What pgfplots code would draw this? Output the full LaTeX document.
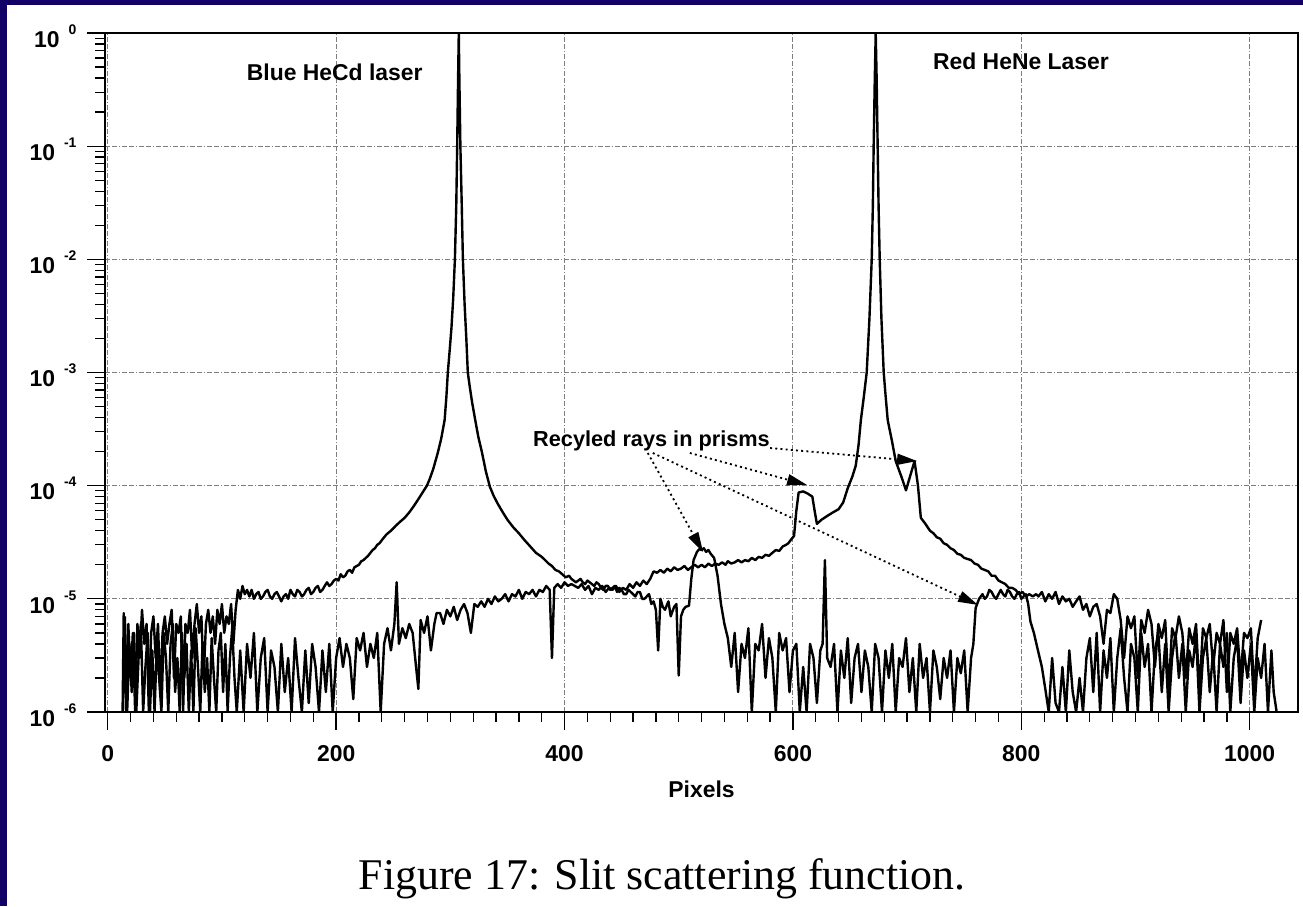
\documentclass[border=0pt]{standalone}
\usepackage{pgfplots}
\pgfplotsset{compat=1.18}
\usepackage{fontspec}
\setmainfont{Liberation Sans}
\newfontfamily\capfont{Liberation Serif}
\usetikzlibrary{arrows.meta}
\definecolor{navyframe}{RGB}{18,0,102}
\definecolor{gridgray}{RGB}{125,125,125}
\newcommand{\lab}{\fontsize{23}{26}\selectfont\bfseries}
\newcommand{\tp}[1]{10\hspace{9bp}\raisebox{13bp}{\fontsize{14}{14}\selectfont\bfseries #1}}
\begin{document}
\begin{tikzpicture}[x=1bp,y=1bp]
\path[use as bounding box] (0,0) rectangle (1303,906);
\fill[navyframe] (0,0) rectangle (1303,906);
\fill[white] (7.3,0) rectangle (1303,901.3);
\begin{axis}[
  at={(105bp,194bp)}, anchor=south west,
  scale only axis, width=1193bp, height=679bp,
  xmin=-2.4, xmax=1042.3, ymin=1e-6, ymax=1, ymode=log,
  xtick={0,200,400,600,800,1000},
  xticklabels={0,200,400,600,800,1000},
  minor x tick num=9,
  ytick={1e-6,1e-5,1e-4,1e-3,1e-2,1e-1,1},
  yticklabels={\tp{-6},\tp{-5},\tp{-4},\tp{-3},\tp{-2},\tp{-1},\tp{0}},
  xtick pos=bottom, ytick pos=left,
  tick align=outside,
  major tick length=18bp, minor tick length=10bp,
  every tick/.style={black, line width=1.3bp},
  axis line style={line width=1.5bp},
  tick label style={font=\lab},
  yticklabel style={yshift=-3bp, xshift=-7bp},
  xticklabel style={yshift=-12bp},
  grid=major,
  major grid style={gridgray, line width=1bp, dash pattern=on 5bp off 2bp on 5bp off 2bp on 1bp off 2bp},
  xlabel={Pixels},
  xlabel style={font=\lab, yshift=-12bp},
  clip=true,
]
% Blue HeCd laser
\addplot[black, line width=2.4bp, line join=round] table[row sep=\\] {
x y\\
13 1e-6\\ 14 7.5e-6\\ 16 1e-6\\ 18 6e-6\\ 20 2e-6\\ 22 5e-6\\ 24 1e-6\\ 26 6e-6\\ 28 3e-6\\ 30 8e-6\\
32 4e-6\\ 34 6e-6\\ 36 1e-6\\ 38 5e-6\\ 40 7e-6\\ 42 3e-6\\ 44 6e-6\\ 46 1.5e-6\\ 48 5e-6\\ 50 7e-6\\
52 4e-6\\ 54 6e-6\\ 56 8e-6\\ 58 2e-6\\ 60 6e-6\\ 62 5e-6\\ 64 7e-6\\ 66 1e-6\\ 68 6e-6\\ 70 5e-6\\
72 8e-6\\ 74 3e-6\\ 76 6e-6\\ 78 9e-6\\ 80 5e-6\\ 82 7e-6\\ 84 2e-6\\ 86 6e-6\\ 88 8e-6\\ 90 5e-6\\
92 7e-6\\ 94 4e-6\\ 96 8e-6\\ 98 6e-6\\ 100 9e-6\\ 102 5e-6\\ 104 7e-6\\ 106 6e-6\\ 108 9e-6\\ 110 4e-6\\
112 8e-6\\ 114 1.2e-5\\ 116 1.0e-5\\ 118 1.3e-5\\ 120 1.1e-5\\ 122 1.2e-5\\ 124 1.05e-5\\ 126 1.2e-5\\ 128 1.0e-5\\ 130 1.1e-5\\
132 1.15e-5\\ 134 1.0e-5\\ 136 1.05e-5\\ 138 1.15e-5\\ 140 1.2e-5\\ 142 1.05e-5\\ 144 1.0e-5\\ 146 1.1e-5\\ 148 1.15e-5\\ 150 1.05e-5\\
152 9.5e-6\\ 154 1.05e-5\\ 156 1.1e-5\\ 158 1.0e-5\\ 160 1.2e-5\\ 162 1.1e-5\\ 164 1.05e-5\\ 166 1.2e-5\\ 168 1.15e-5\\ 170 1.05e-5\\
172 1.1e-5\\ 174 1.2e-5\\ 176 1.25e-5\\ 178 1.1e-5\\ 180 1.15e-5\\ 182 1.25e-5\\ 184 1.3e-5\\ 186 1.15e-5\\ 188 1.2e-5\\ 190 1.3e-5\\
192 1.4e-5\\ 194 1.3e-5\\ 196 1.35e-5\\ 198 1.45e-5\\ 200 1.5e-5\\ 202 1.45e-5\\ 204 1.65e-5\\ 206 1.55e-5\\ 208 1.6e-5\\ 210 1.75e-5\\
212 1.8e-5\\ 214 1.7e-5\\ 216 1.9e-5\\ 218 1.95e-5\\ 220 2.0e-5\\ 222 2.15e-5\\ 224 2.2e-5\\ 226 2.3e-5\\ 228 2.4e-5\\ 230 2.55e-5\\
232 2.7e-5\\ 234 2.8e-5\\ 236 3.0e-5\\ 238 3.1e-5\\ 240 3.3e-5\\ 244 3.7e-5\\ 248 4.0e-5\\ 252 4.4e-5\\ 256 4.8e-5\\ 260 5.2e-5\\
264 5.8e-5\\ 268 6.6e-5\\ 272 7.6e-5\\ 276 8.8e-5\\ 279.5 1.0e-4\\ 282 1.15e-4\\ 285 1.4e-4\\ 289 1.95e-4\\ 292 2.6e-4\\ 295 3.8e-4\\
296.5 6e-4\\ 297.8 1e-3\\ 299.5 1.6e-3\\ 301 2.5e-3\\ 302.5 4.5e-3\\ 304 1e-2\\ 305.2 3e-2\\ 306 0.1\\ 306.8 0.4\\ 307.4 1.0\\
307.9 0.4\\ 308.8 0.1\\ 310 3e-2\\ 311 1e-2\\ 312.5 4e-3\\ 314 2e-3\\ 315.3 1e-3\\ 317 7.5e-4\\ 319 5.5e-4\\ 321.8 3.8e-4\\
324.5 2.7e-4\\ 327.8 1.95e-4\\ 331 1.35e-4\\ 334.6 9.8e-5\\ 338 8.1e-5\\ 341.6 6.9e-5\\ 346 5.8e-5\\ 350 5e-5\\ 355 4.3e-5\\ 360 3.8e-5\\
365 3.3e-5\\ 370 2.9e-5\\ 375 2.55e-5\\ 380 2.35e-5\\ 383 2.2e-5\\ 386 2.05e-5\\ 389 1.95e-5\\ 392 1.8e-5\\ 395 1.75e-5\\ 398 1.65e-5\\
401 1.55e-5\\ 404 1.6e-5\\ 406 1.5e-5\\ 408 1.45e-5\\ 410 1.4e-5\\ 412 1.45e-5\\ 414 1.5e-5\\ 416 1.4e-5\\ 418 1.35e-5\\ 420 1.45e-5\\
422 1.4e-5\\ 424 1.35e-5\\ 426 1.3e-5\\ 428 1.4e-5\\ 430 1.35e-5\\ 432 1.25e-5\\ 434 1.2e-5\\ 436 1.3e-5\\ 438 1.3e-5\\ 440 1.2e-5\\
442 1.25e-5\\ 444 1.3e-5\\ 446 1.15e-5\\ 448 1.25e-5\\ 450 1.2e-5\\ 452 1.1e-5\\ 454 1.1e-5\\ 456 1.2e-5\\ 458 1.15e-5\\ 460 1.1e-5\\
462 1.05e-5\\ 464 1.15e-5\\ 466 1.15e-5\\ 468 1.0e-5\\ 470 1.0e-5\\ 472 1.05e-5\\ 474 1.1e-5\\ 476 9e-6\\ 478 9.5e-6\\ 480 8e-6\\
482 3.5e-6\\ 484 1.0e-5\\ 486 8.5e-6\\ 488 8e-6\\ 490 9e-6\\ 491 9.5e-6\\ 493 7e-6\\ 494 7.5e-6\\ 496 8.5e-6\\ 498 9e-6\\
500 2.1e-6\\ 502 7e-6\\ 504 8e-6\\ 506 8.5e-6\\ 509 8.7e-6\\ 511 1.5e-5\\ 513 2.2e-5\\ 516 2.6e-5\\ 518 2.75e-5\\ 520 2.7e-5\\
522 2.8e-5\\ 524 2.6e-5\\ 526 2.7e-5\\ 528 2.5e-5\\ 531 2.3e-5\\ 534 1.6e-5\\ 537 9e-6\\ 540 6e-6\\ 543 4.5e-6\\ 546 2.5e-6\\
549 5e-6\\ 552 1.5e-6\\ 555 4e-6\\ 558 3e-6\\ 561 5.5e-6\\ 564 1e-6\\ 567 4e-6\\ 570 3.5e-6\\ 573 6e-6\\ 576 2e-6\\
579 4.5e-6\\ 582 3e-6\\ 585 1e-6\\ 588 5e-6\\ 591 3.5e-6\\ 594 4.5e-6\\ 597 1.5e-6\\ 600 3.5e-6\\ 603 4e-6\\ 606 1e-6\\
609 2.5e-6\\ 612 1e-6\\ 615 4e-6\\ 618 3e-6\\ 621 1.2e-6\\ 624 3.5e-6\\ 626 4e-6\\ 628 2.2e-5\\ 630 3e-6\\ 633 2.5e-6\\
636 4e-6\\ 639 1e-6\\ 642 3.5e-6\\ 645 2e-6\\ 648 4.5e-6\\ 651 1.2e-6\\ 654 3e-6\\ 657 4e-6\\ 660 1.5e-6\\ 663 3.5e-6\\
666 2.5e-6\\ 669 1e-6\\ 672 4e-6\\ 675 3e-6\\ 678 1e-6\\ 681 3.5e-6\\ 684 2e-6\\ 687 4e-6\\ 690 1e-6\\ 693 3e-6\\
696 2.5e-6\\ 699 4.5e-6\\ 702 1.5e-6\\ 705 3e-6\\ 708 1e-6\\ 711 4e-6\\ 714 2e-6\\ 717 3e-6\\ 720 1e-6\\ 723 3.5e-6\\
726 2.5e-6\\ 729 1.3e-6\\ 732 3e-6\\ 735 2e-6\\ 738 3.5e-6\\ 741 1e-6\\ 744 3e-6\\ 747 2.2e-6\\ 750 3.5e-6\\ 753 1e-6\\
756 3e-6\\ 758 4e-6\\ 760 8.3e-6\\ 763 1e-5\\ 766 1.1e-5\\ 768 1.0e-5\\ 770 1.05e-5\\ 772 1.2e-5\\ 774 1.15e-5\\ 776 1.05e-5\\
778 1.0e-5\\ 780 1.1e-5\\ 782 1.2e-5\\ 784 1.1e-5\\ 786 1.05e-5\\ 788 1.2e-5\\ 790 1.15e-5\\ 792 1.05e-5\\ 794 1.0e-5\\ 796 1.1e-5\\
798 1.15e-5\\ 800 1.0e-5\\ 802 1.05e-5\\ 804 1.1e-5\\ 806 9e-6\\ 808 6.3e-6\\ 811 5e-6\\ 814 3.7e-6\\ 818 2.5e-6\\ 821 1.6e-6\\
824 1e-6\\ 827 3e-6\\ 830 1.2e-6\\ 833 1e-6\\ 836 2.5e-6\\ 839 1e-6\\ 842 3.5e-6\\ 845 1.5e-6\\ 848 1e-6\\ 851 2e-6\\
854 1e-6\\ 857 3e-6\\ 860 4.5e-6\\ 863 1.5e-6\\ 866 5e-6\\ 869 1e-6\\ 872 3.5e-6\\ 875 2e-6\\ 878 4.5e-6\\ 881 1e-6\\
884 3e-6\\ 887 5.5e-6\\ 890 2e-6\\ 893 1e-6\\ 896 4e-6\\ 899 3e-6\\ 902 1e-6\\ 905 5e-6\\ 908 2.5e-6\\ 911 4e-6\\
914 1e-6\\ 917 3.5e-6\\ 920 5e-6\\ 923 1.5e-6\\ 926 4e-6\\ 929 1e-6\\ 932 3e-6\\ 935 5e-6\\ 938 2e-6\\ 941 4e-6\\
944 1e-6\\ 947 3.5e-6\\ 950 2.5e-6\\ 953 5e-6\\ 956 1e-6\\ 959 3e-6\\ 962 4.5e-6\\ 965 1.5e-6\\ 968 3.5e-6\\ 971 1e-6\\
974 4e-6\\ 977 2.5e-6\\ 980 5e-6\\ 983 1e-6\\ 986 3e-6\\ 989 4.5e-6\\ 992 1.2e-6\\ 995 3.5e-6\\ 998 2e-6\\ 1001 4e-6\\
1004 1e-6\\ 1007 3e-6\\ 1010 2e-6\\ 1013 4e-6\\ 1016 1e-6\\ 1019 3.5e-6\\ 1021 1.5e-6\\ 1023.6 1e-6\\
};
% Red HeNe laser
\addplot[black, line width=2.4bp, line join=round] table[row sep=\\] {
x y\\
15 7e-6\\ 17 1e-6\\ 19 4e-6\\ 21 1.5e-6\\ 23 5e-6\\ 25 1e-6\\ 27 3e-6\\ 29 6e-6\\ 31 1e-6\\ 33 2.5e-6\\
35 5e-6\\ 37 1e-6\\ 39 3.5e-6\\ 41 1e-6\\ 43 4e-6\\ 45 2e-6\\ 47 1e-6\\ 49 5e-6\\ 51 3e-6\\ 53 1e-6\\
55 4e-6\\ 57 6e-6\\ 59 1.5e-6\\ 61 3e-6\\ 63 1e-6\\ 65 5e-6\\ 67 2e-6\\ 69 4e-6\\ 71 1e-6\\ 73 3.5e-6\\
75 1e-6\\ 77 5.5e-6\\ 79 2.5e-6\\ 81 1e-6\\ 83 4e-6\\ 85 1.5e-6\\ 87 3e-6\\ 89 1e-6\\ 91 4.5e-6\\ 93 2e-6\\
95 1e-6\\ 97 3.5e-6\\ 99 5e-6\\ 101 1.5e-6\\ 103 4e-6\\ 105 1e-6\\ 107 3e-6\\ 109 5.5e-6\\ 111 2e-6\\ 113 1e-6\\
116 3.5e-6\\ 119 1e-6\\ 122 4e-6\\ 125 2e-6\\ 128 5e-6\\ 131 1e-6\\ 134 3e-6\\ 137 4.5e-6\\ 140 1e-6\\ 143 3.5e-6\\
146 2.5e-6\\ 149 1e-6\\ 152 4e-6\\ 155 1.5e-6\\ 158 3e-6\\ 161 1e-6\\ 164 4.5e-6\\ 167 2e-6\\ 170 1e-6\\ 173 3.5e-6\\
176 1.2e-6\\ 179 4e-6\\ 182 2.5e-6\\ 185 1e-6\\ 188 3.5e-6\\ 191 1.5e-6\\ 194 4e-6\\ 197 1e-6\\ 200 3e-6\\ 203 4.5e-6\\
206 2.5e-6\\ 209 4e-6\\ 212 3e-6\\ 215 1.3e-6\\ 218 4.5e-6\\ 221 3.5e-6\\ 224 5e-6\\ 227 2.5e-6\\ 230 4e-6\\ 233 3e-6\\
236 5e-6\\ 239 1e-6\\ 242 4e-6\\ 245 5.5e-6\\ 248 3.5e-6\\ 251 6e-6\\ 253 1.4e-5\\ 255 4e-6\\ 258 5.5e-6\\ 261 4.5e-6\\
264 6e-6\\ 267 5e-6\\ 270 2.5e-6\\ 272 1.6e-6\\ 274 6.5e-6\\ 277 5e-6\\ 280 7e-6\\ 283 3.5e-6\\ 286 6e-6\\ 288 7.5e-6\\
291 7.5e-6\\ 294 6e-6\\ 297 8e-6\\ 300 7e-6\\ 303 8.5e-6\\ 306 6.5e-6\\ 309 8e-6\\ 312 9e-6\\ 315 7.5e-6\\ 318 5e-6\\
321 9e-6\\ 324 8.5e-6\\ 327 9.5e-6\\ 330 8.5e-6\\ 333 1.0e-5\\ 336 9e-6\\ 339 1.05e-5\\ 342 9.5e-6\\ 345 1.0e-5\\ 348 1.1e-5\\
351 9.5e-6\\ 354 1.1e-5\\ 357 1.05e-5\\ 360 1.2e-5\\ 363 1.0e-5\\ 366 1.15e-5\\ 369 1.1e-5\\ 372 1.2e-5\\ 375 1.05e-5\\ 378 1.2e-5\\
381 1.15e-5\\ 384 1.3e-5\\ 387 1.2e-5\\ 389 3e-6\\ 391 1.25e-5\\ 394 1.35e-5\\ 397 1.25e-5\\ 400 1.4e-5\\ 403 1.3e-5\\ 406 1.35e-5\\
409 1.3e-5\\ 412 1.25e-5\\ 415 1.35e-5\\ 418 1.2e-5\\ 421 1.3e-5\\ 424 1.1e-5\\ 427 1.25e-5\\ 430 1.2e-5\\ 433 1.3e-5\\ 436 1.15e-5\\
439 1.25e-5\\ 442 1.2e-5\\ 445 1.3e-5\\ 448 1.15e-5\\ 451 1.25e-5\\ 454 1.2e-5\\ 457 1.35e-5\\ 460 1.25e-5\\ 463 1.4e-5\\ 466 1.3e-5\\
469 1.45e-5\\ 472 1.35e-5\\ 475 1.5e-5\\ 478 1.75e-5\\ 481 1.7e-5\\ 484 1.8e-5\\ 487 1.7e-5\\ 490 1.85e-5\\ 493 1.75e-5\\ 496 1.9e-5\\
499 1.8e-5\\ 502 1.85e-5\\ 505 1.95e-5\\ 508 1.8e-5\\ 511 1.9e-5\\ 514 2.0e-5\\ 517 1.9e-5\\ 520 2.0e-5\\ 523 1.9e-5\\ 526 2.05e-5\\
529 1.95e-5\\ 532 2.05e-5\\ 535 2.0e-5\\ 538 2.1e-5\\ 541 2.0e-5\\ 543 2.15e-5\\ 546 2.05e-5\\ 549 2.1e-5\\ 552 2.2e-5\\ 555 2.1e-5\\
558 2.2e-5\\ 561 2.15e-5\\ 564 2.3e-5\\ 567 2.2e-5\\ 570 2.35e-5\\ 573 2.3e-5\\ 576 2.45e-5\\ 579 2.4e-5\\ 582 2.55e-5\\ 585 2.7e-5\\
588 2.65e-5\\ 591 2.9e-5\\ 594 3.0e-5\\ 596 3.1e-5\\ 598 3.3e-5\\ 601 3.6e-5\\ 603 6e-5\\ 605 8.7e-5\\ 609 8.9e-5\\ 613 8.5e-5\\
617 8e-5\\ 619 6e-5\\ 621 4.6e-5\\ 625 5.0e-5\\ 630 5.4e-5\\ 635 5.8e-5\\ 640 6.2e-5\\ 644 7.1e-5\\ 648 9.5e-5\\ 652 1.2e-4\\
655 1.5e-4\\ 657.5 2.3e-4\\ 659.5 3.8e-4\\ 662 6e-4\\ 664.6 1e-3\\ 667 3e-3\\ 669 1e-2\\ 670 3e-2\\ 670.7 0.1\\ 671.7 0.4\\
672.5 1.0\\ 673.3 0.4\\ 674.2 0.1\\ 675 3e-2\\ 676 1e-2\\ 677.5 3e-3\\ 679.5 1e-3\\ 681 6.5e-4\\ 683 3.8e-4\\ 687 2.4e-4\\
690 1.65e-4\\ 695 1.2e-4\\ 699 9.1e-5\\ 703 1.25e-4\\ 706.5 1.65e-4\\ 709.5 1e-4\\ 712 5.2e-5\\ 716 4.6e-5\\ 720 4e-5\\ 723 3.8e-5\\
726 3.5e-5\\ 729 3.4e-5\\ 732 3.1e-5\\ 735 3e-5\\ 738 2.8e-5\\ 741 2.7e-5\\ 744 2.5e-5\\ 747 2.45e-5\\ 750 2.3e-5\\ 753 2.25e-5\\
756 2.2e-5\\ 759 2.05e-5\\ 762 2.0e-5\\ 765 1.85e-5\\ 768 1.8e-5\\ 771 1.75e-5\\ 774 1.6e-5\\ 777 1.6e-5\\ 780 1.45e-5\\ 783 1.4e-5\\
786 1.35e-5\\ 789 1.25e-5\\ 792 1.25e-5\\ 795 1.2e-5\\ 798 1.1e-5\\ 801 1.15e-5\\ 804 1.05e-5\\ 807 1.1e-5\\ 810 1.05e-5\\ 813 1.1e-5\\
815 1.05e-5\\ 818 1.15e-5\\ 821 9.5e-6\\ 824 1.1e-5\\ 827 1.0e-5\\ 830 1.15e-5\\ 833 9e-6\\ 836 1.05e-5\\ 839 9.5e-6\\ 842 1.0e-5\\
845 8.5e-6\\ 848 9.5e-6\\ 851 1.05e-5\\ 854 8e-6\\ 857 9e-6\\ 860 7e-6\\ 863 8.5e-6\\ 866 9e-6\\ 869 7e-6\\ 872 4e-6\\
875 8e-6\\ 878 7.5e-6\\ 881 1.1e-5\\ 884 1e-5\\ 887 6.5e-6\\ 890 3e-6\\ 893 7e-6\\ 896 5.5e-6\\ 899 7e-6\\ 902 2e-6\\
905 6.5e-6\\ 908 5e-6\\ 911 8e-6\\ 914 6e-6\\ 917 2.5e-6\\ 920 6e-6\\ 923 4.5e-6\\ 926 6.5e-6\\ 929 1.5e-6\\ 932 5.5e-6\\
935 4.5e-6\\ 938 7e-6\\ 941 5e-6\\ 944 2e-6\\ 947 5.5e-6\\ 950 4e-6\\ 953 6e-6\\ 956 1.5e-6\\ 959 5.5e-6\\ 962 4.5e-6\\
965 6e-6\\ 968 2.5e-6\\ 971 5e-6\\ 974 4e-6\\ 977 6.5e-6\\ 980 1.5e-6\\ 983 5e-6\\ 986 4e-6\\ 989 5.5e-6\\ 992 2e-6\\
995 5e-6\\ 998 4.5e-6\\ 1001 5.5e-6\\ 1004 1.5e-6\\ 1007 4.5e-6\\ 1010 6.5e-6\\
};
% labels
\node[font=\lab, anchor=base] at (axis cs:198.8,0.384) {Blue HeCd laser};
\node[font=\lab, anchor=base] at (axis cs:799.7,0.471) {Red HeNe Laser};
\node[font=\fontsize{21.8}{25}\selectfont\bfseries, anchor=base west, inner sep=0pt] at (axis cs:372.4,2.2e-4) {Recyled rays in prisms};
% dotted arrows
\tikzset{recarrow/.style={black, line width=1.8bp, dash pattern=on 2bp off 3.2bp, -{Triangle[length=20bp,width=11bp]}}}
\draw[recarrow] (axis cs:472.9,1.945e-4) -- (axis cs:521.3,2.59e-5);
\draw[recarrow] (axis cs:477.3,1.945e-4) -- (axis cs:762.1,8.83e-6);
\draw[recarrow] (axis cs:509.7,1.945e-4) -- (axis cs:612.4,1.014e-4);
\draw[recarrow] (axis cs:580,2.15e-4) -- (axis cs:708.7,1.65e-4);
\end{axis}
\node[font=\capfont\fontsize{44}{50}\selectfont, anchor=base] at (662,17) {Figure 17: Slit scattering function.};
\end{tikzpicture}
\end{document}
